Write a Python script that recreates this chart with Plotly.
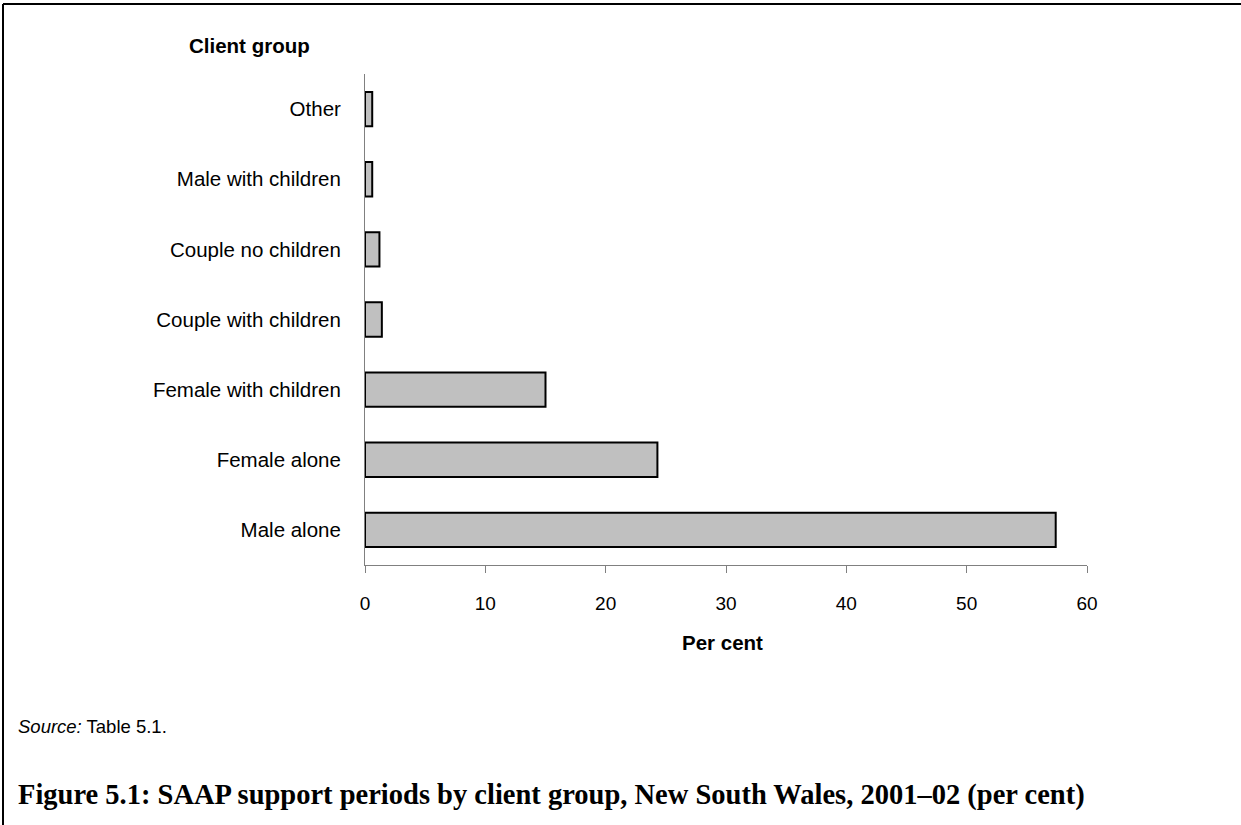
import plotly.graph_objects as go

categories = ["Male alone", "Female alone", "Female with children", "Couple with children",
              "Couple no children", "Male with children", "Other"]
values = [57.4, 24.3, 15.0, 1.4, 1.2, 0.6, 0.6]
x_ticks = [0, 10, 20, 30, 40, 50, 60]

W, H = 1241, 825

fig = go.Figure()
fig.add_trace(go.Bar(
    y=categories, x=values, orientation="h",
    marker=dict(color="#C0C0C0", line=dict(color="#000000", width=2)),
    width=0.49, hoverinfo="x+y"
))

fig.update_layout(
    width=W, height=H, autosize=False,
    margin=dict(l=0, r=0, t=0, b=0, pad=0, autoexpand=False),
    paper_bgcolor="white", plot_bgcolor="white",
    showlegend=False,
    font=dict(family="Liberation Sans, Arial, sans-serif", size=19, color="#000000"),
    xaxis=dict(
        domain=[365 / W, 1087 / W], range=[0, 60], tickvals=x_ticks, automargin=False,
        showgrid=False, zeroline=False, showline=True, linecolor="#808080", linewidth=1,
        ticks="outside", ticklen=7, tickcolor="#808080", ticklabelstandoff=14,
        tickfont=dict(size=19),
    ),
    yaxis=dict(
        domain=[1 - 565 / H, 1 - 74 / H], range=[-0.5, 6.5], automargin=False,
        categoryorder="array", categoryarray=categories,
        showgrid=False, zeroline=False, showline=True, linecolor="#808080", linewidth=1,
        ticks="", ticklabelstandoff=19, tickfont=dict(size=20.5),
    ),
)

annotations = [
    dict(text="<b>Client group</b>", x=249 / W, y=1 - 45 / H, xanchor="center", yanchor="middle",
         font=dict(size=20.5)),
    dict(text="<b>Per cent</b>", x=722 / W, y=1 - 642 / H, xanchor="center", yanchor="middle",
         font=dict(size=20.5)),
    dict(text="<i>Source:</i> Table 5.1.", x=16 / W, y=1 - 726 / H, xanchor="left", yanchor="middle",
         font=dict(size=18.5)),
    dict(text="<b>Figure 5.1: SAAP support periods by client group, New South Wales, 2001\u201302 (per cent)</b>",
         x=16 / W, y=1 - 795 / H, xanchor="left", yanchor="middle",
         font=dict(family="Liberation Serif, Times New Roman, serif", size=28.5)),
]
for a in annotations:
    fig.add_annotation(xref="paper", yref="paper", showarrow=False, **a)

fig.add_shape(type="line", xref="paper", yref="paper", x0=3 / W, x1=1, y0=1 - 4 / H, y1=1 - 4 / H,
              line=dict(color="black", width=2))
fig.add_shape(type="line", xref="paper", yref="paper", x0=3 / W, x1=3 / W, y0=1 - 4 / H, y1=0,
              line=dict(color="black", width=2))

fig.write_html(
    "out.html",
    config={"displayModeBar": False},
    post_script="document.body.style.margin='0';document.body.style.overflow='hidden';"
                "document.documentElement.style.overflow='hidden';",
)
